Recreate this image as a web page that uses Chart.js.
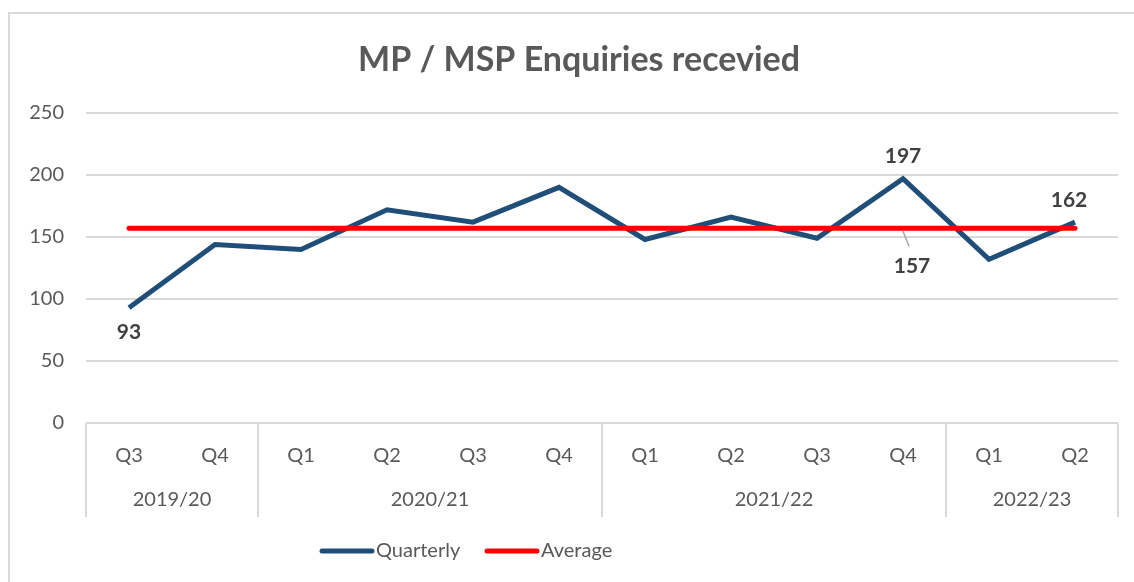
<!DOCTYPE html>
<html>
<head>
<meta charset="utf-8">
<script src="https://cdn.jsdelivr.net/npm/chart.js@4"></script>
<style>
  html, body { margin: 0; padding: 0; background: #fff; }
  #wrap { width: 1134px; height: 582px; }
</style>
</head>
<body>
<div id="wrap"><canvas id="myChart" width="1134" height="582"></canvas></div>
<script>
// data
var quarters = ["Q3", "Q4", "Q1", "Q2", "Q3", "Q4", "Q1", "Q2", "Q3", "Q4", "Q1", "Q2"];
var years = ["2019/20", "2020/21", "2021/22", "2022/23"];
var yearSpans = [2, 4, 4, 2];
var quarterly = [93, 144, 140, 172, 162, 190, 148, 166, 149, 197, 132, 162];
var averageValue = 157;
var average = quarters.map(function () { return averageValue; });
var labelledPoints = [0, 9, 11]; // quarterly points with a value label
var yTicks = [0, 50, 100, 150, 200, 250];

var FONT = "Lato, 'Open Sans', sans-serif";
var GREY = '#595959';
var LINE = '#d9d9d9';

// title, frame, two-level axis, labels and legend drawn by hand
var extras = {
    id: 'extras',
    beforeDraw: function (chart) {
        var ctx = chart.ctx;
        ctx.save();
        ctx.strokeStyle = LINE;
        ctx.lineWidth = 2;
        ctx.strokeRect(9, 13, 1200, 700);
        ctx.restore();
    },
    afterDraw: function (chart) {
        var ctx = chart.ctx;
        var x = chart.scales.x;
        var area = chart.chartArea;
        ctx.save();

        // title
        ctx.fillStyle = GREY;
        ctx.font = 'bold 34px ' + FONT;
        ctx.textAlign = 'center';
        ctx.textBaseline = 'middle';
        ctx.fillText('MP / MSP Enquiries recevied', 579, 60);

        // year group dividers + labels
        ctx.strokeStyle = LINE;
        ctx.lineWidth = 2;
        ctx.font = '20px ' + FONT;
        var start = 0;
        var left = x.getPixelForValue(-0.5);
        ctx.beginPath();
        ctx.moveTo(left, area.bottom);
        ctx.lineTo(left, 517);
        ctx.stroke();
        for (var i = 0; i < years.length; i++) {
            var end = start + yearSpans[i];
            var a = x.getPixelForValue(start - 0.5);
            var b = x.getPixelForValue(end - 0.5);
            ctx.beginPath();
            ctx.moveTo(b, area.bottom);
            ctx.lineTo(b, 517);
            ctx.stroke();
            ctx.fillStyle = GREY;
            ctx.fillText(years[i], (a + b) / 2, 500);
            start = end;
        }

        // value labels
        var meta = chart.getDatasetMeta(0);
        ctx.font = 'bold 21px ' + FONT;
        ctx.fillStyle = '#404040';
        labelledPoints.forEach(function (idx) {
            var p = meta.data[idx];
            var below = quarterly[idx] < 100;
            ctx.fillText(String(quarterly[idx]), p.x - (idx === 11 ? 6 : 0), below ? p.y + 25 : p.y - 22);
        });

        // average label with leader line
        var avgMeta = chart.getDatasetMeta(1);
        var ap = avgMeta.data[9];
        ctx.strokeStyle = '#a6a6a6';
        ctx.lineWidth = 1.5;
        ctx.beginPath();
        ctx.moveTo(ap.x, ap.y + 3);
        ctx.lineTo(ap.x + 6, ap.y + 18);
        ctx.stroke();
        ctx.fillText(String(averageValue), ap.x + 9, ap.y + 38);

        // legend
        var legend = [['Quarterly', '#1f4e79', 322], ['Average', '#ff0000', 487]];
        ctx.font = '20px ' + FONT;
        ctx.textAlign = 'left';
        legend.forEach(function (l) {
            ctx.strokeStyle = l[1];
            ctx.lineWidth = 5;
            ctx.lineCap = 'round';
            ctx.beginPath();
            ctx.moveTo(l[2], 551);
            ctx.lineTo(l[2] + 50, 551);
            ctx.stroke();
            ctx.fillStyle = GREY;
            ctx.fillText(l[0], l[2] + 54, 551);
        });
        ctx.restore();
    }
};

var ctx = document.getElementById('myChart').getContext('2d');
var chart = new Chart(ctx, {
    type: 'line',
    data: {
        labels: quarters,
        datasets: [{
            label: 'Quarterly',
            data: quarterly,
            borderColor: '#1f4e79',
            backgroundColor: '#1f4e79',
            borderWidth: 5,
            pointRadius: 0,
            tension: 0,
            order: 2
        }, {
            label: 'Average',
            data: average,
            borderColor: '#ff0000',
            backgroundColor: '#ff0000',
            borderWidth: 5,
            borderCapStyle: 'round',
            pointRadius: 0,
            order: 1
        }]
    },
    options: {
        responsive: false,
        animation: false,
        layout: { padding: { left: 8, right: 16, top: 113, bottom: 0 } },
        plugins: {
            legend: { display: false },
            title: { display: false },
            tooltip: { enabled: false }
        },
        scales: {
            x: {
                offset: true,
                grid: { display: false, drawTicks: false },
                border: { display: false },
                ticks: {
                    color: GREY,
                    font: { family: FONT, size: 20 },
                    padding: 21,
                    maxRotation: 0,
                    autoSkip: false
                },
                afterFit: function (axis) { axis.height = 159; }
            },
            y: {
                min: 0,
                max: 250,
                afterBuildTicks: function (axis) {
                    axis.ticks = yTicks.map(function (v) { return { value: v }; });
                },
                grid: { color: LINE, lineWidth: 2, drawTicks: false },
                border: { display: false },
                ticks: {
                    color: GREY,
                    font: { family: FONT, size: 20 },
                    padding: 22
                },
                afterFit: function (axis) { axis.width = 78; }
            }
        }
    },
    plugins: [extras]
});
</script>
</body>
</html>
